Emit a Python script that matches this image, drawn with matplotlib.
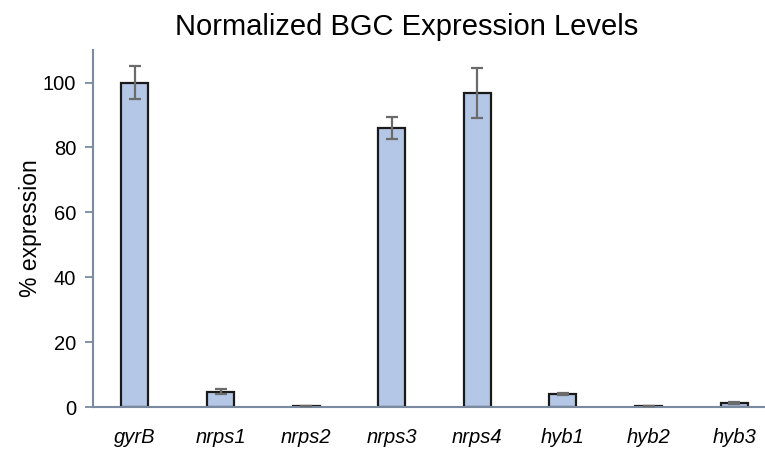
import matplotlib
matplotlib.use("Agg")
import matplotlib.pyplot as plt
import numpy as np

categories = ["gyrB", "nrps1", "nrps2", "nrps3", "nrps4", "hyb1", "hyb2", "hyb3"]
values = [100.0, 4.7, 0.3, 86.0, 96.8, 4.0, 0.3, 1.2]
errors = [5.2, 0.7, 0.1, 3.4, 7.6, 0.4, 0.1, 0.3]
yticks = [0, 20, 40, 60, 80, 100]

plt.rcParams['font.family'] = ['Liberation Sans', 'DejaVu Sans']

fig = plt.figure(figsize=(7.65, 4.49), dpi=100)
ax = fig.add_axes([0.1216, 0.0935, 0.8784, 0.795])

x = np.arange(len(categories))
ax.bar(x, values, width=0.315, color="#b4c7e7", edgecolor="#1a1a1a", linewidth=1.6, zorder=2)
ax.errorbar(x, values, yerr=errors, fmt="none", ecolor="#6b6b6b", elinewidth=1.6,
            capsize=4.5, capthick=1.6, zorder=3)

ax.set_xlim(-0.49, 7.36)
ax.set_ylim(0, 110)
ax.set_yticks(yticks)
ax.set_xticks(x)
ax.set_xticklabels(categories, fontstyle="italic", fontsize=14.5)
ax.tick_params(axis="y", labelsize=14.5, length=6, width=1.3, color="#7a8aa0",
               direction="out", pad=6)
ax.tick_params(axis="x", length=0, pad=15)
for s in ["top", "right"]:
    ax.spines[s].set_visible(False)
for s in ["left", "bottom"]:
    ax.spines[s].set_color("#7a8aa0")
    ax.spines[s].set_linewidth(1.5)

ax.set_ylabel("% expression", fontsize=16.5, labelpad=1)
fig.text(0.531, 0.94, "Normalized BGC Expression Levels", fontsize=21,
         ha="center", va="center")

fig.savefig("out.png", dpi=100)
